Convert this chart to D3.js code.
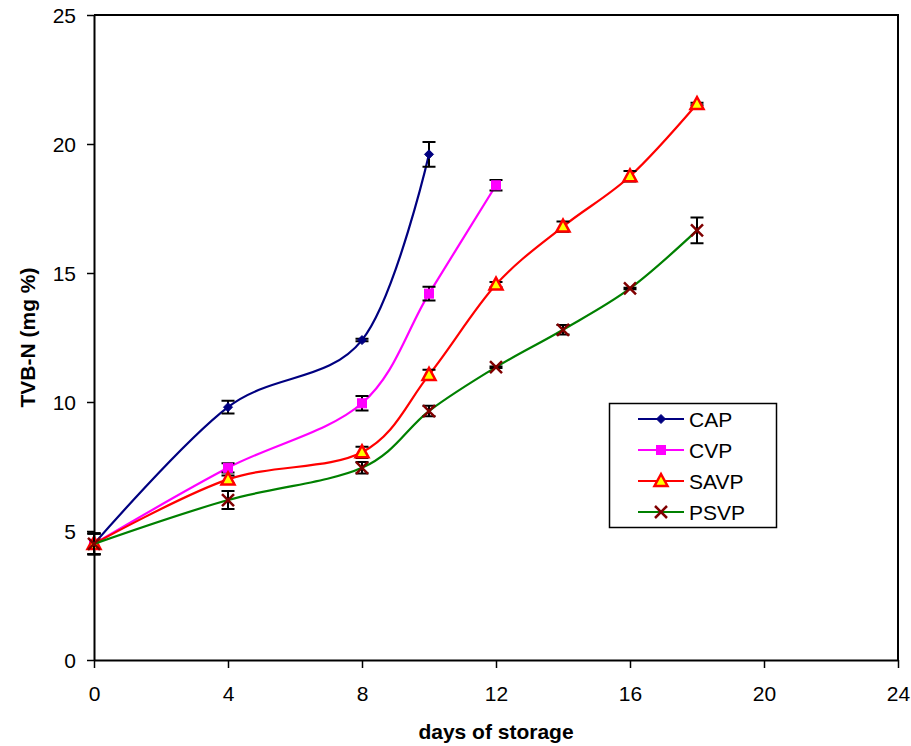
<!DOCTYPE html>
<html>
<head>
<meta charset="utf-8">
<script src="https://cdn.jsdelivr.net/npm/d3@7"></script>
<style>
  body { margin: 0; background: #fff; }
  svg text { font-family: "Liberation Sans", Arial, sans-serif; }
</style>
</head>
<body>
<div id="chart"></div>
<script>
// values
var xTicks = [0, 4, 8, 12, 16, 20, 24];
var yTicks = [0, 5, 10, 15, 20, 25];

var capDays = [0, 4, 8, 10];
var capVals = [4.5, 9.8, 12.4, 19.6];
var capErr  = [0.4, 0.25, 0.05, 0.48];

var cvpDays = [0, 4, 8, 10, 12];
var cvpVals = [4.5, 7.45, 9.95, 14.2, 18.4];
var cvpErr  = [0.4, 0.18, 0.28, 0.27, 0.2];

var savpDays = [0, 4, 8, 10, 12, 14, 16, 18];
var savpVals = [4.5, 7.0, 8.05, 11.05, 14.55, 16.8, 18.75, 21.55];
var savpErr  = [0.4, 0.15, 0.22, 0.2, 0.1, 0.2, 0.2, 0.05];

var psvpDays = [0, 4, 8, 10, 12, 14, 16, 18];
var psvpVals = [4.5, 6.2, 7.45, 9.65, 11.35, 12.8, 14.4, 16.65];
var psvpErr  = [0.4, 0.35, 0.22, 0.2, 0.03, 0.18, 0.03, 0.5];

var seriesNames = ["CAP", "CVP", "SAVP", "PSVP"];

function zipSeries(days, vals, errs) {
    return days.map(function(d, i){ return {day: d, v: vals[i], e: errs[i]}; });
}

var series = [
    {name: seriesNames[0], pts: zipSeries(capDays, capVals, capErr), color: "#000080", marker: "diamond"},
    {name: seriesNames[1], pts: zipSeries(cvpDays, cvpVals, cvpErr), color: "#ff00ff", marker: "square"},
    {name: seriesNames[2], pts: zipSeries(savpDays, savpVals, savpErr), color: "#ff0000", marker: "triangle"},
    {name: seriesNames[3], pts: zipSeries(psvpDays, psvpVals, psvpErr), color: "#008000", marker: "cross"}
];

var W = 911, H = 746;
var plotL = 94, plotR = 898, plotT = 15, plotB = 660;

var svg = d3.select("#chart").append("svg")
    .attr("width", W).attr("height", H);

var x = d3.scaleLinear().domain([0, 24]).range([plotL, plotR]);
var y = d3.scaleLinear().domain([0, 25]).range([plotB, plotT]);

// plot area border (top / right)
svg.append("path")
    .attr("d", "M" + plotL + "," + plotT + "H" + plotR + "V" + plotB)
    .attr("fill", "none").attr("stroke", "#000").attr("stroke-width", 2);

// axes
var xAxis = svg.append("g")
    .attr("transform", "translate(0," + plotB + ")")
    .call(d3.axisBottom(x).tickValues(xTicks).tickSize(8).tickSizeOuter(0));
var yAxis = svg.append("g")
    .attr("transform", "translate(" + plotL + ",0)")
    .call(d3.axisLeft(y).tickValues(yTicks).tickSize(7).tickSizeOuter(0));

[xAxis, yAxis].forEach(function(a){
    a.select(".domain").attr("stroke", "#000").attr("stroke-width", 2);
    a.selectAll(".tick line").attr("stroke", "#000").attr("stroke-width", 1.5);
    a.selectAll(".tick text")
        .attr("font-family", "Liberation Sans, Arial, sans-serif")
        .attr("font-size", 21).attr("fill", "#000");
});
xAxis.selectAll(".tick text").attr("y", 0).attr("dy", "1.95em");
yAxis.selectAll(".tick text").attr("x", -18).attr("dy", "0.36em");

// axis titles
svg.append("text")
    .attr("x", (plotL + plotR) / 2).attr("y", 739)
    .attr("text-anchor", "middle")
    .attr("font-size", 21).attr("font-weight", "bold")
    .text("days of storage");
svg.append("text")
    .attr("transform", "translate(35," + ((plotT + plotB) / 2) + ") rotate(-90)")
    .attr("text-anchor", "middle")
    .attr("font-size", 21).attr("font-weight", "bold")
    .text("TVB-N (mg %)");

// marker drawing
function drawMarker(g, type, cx, cy) {
    if (type === "diamond") {
        g.append("path")
            .attr("d", "M" + cx + "," + (cy - 4.5) + "L" + (cx + 4.5) + "," + cy +
                       "L" + cx + "," + (cy + 4.5) + "L" + (cx - 4.5) + "," + cy + "Z")
            .attr("fill", "#000080").attr("stroke", "#000080").attr("stroke-width", 1);
    } else if (type === "square") {
        g.append("rect")
            .attr("x", cx - 4.5).attr("y", cy - 4.5).attr("width", 9).attr("height", 9)
            .attr("fill", "#ff00ff").attr("stroke", "#ff00ff").attr("stroke-width", 1);
    } else if (type === "triangle") {
        g.append("path")
            .attr("d", "M" + cx + "," + (cy - 7) + "L" + (cx + 6.5) + "," + (cy + 5) +
                       "L" + (cx - 6.5) + "," + (cy + 5) + "Z")
            .attr("fill", "#ffff00").attr("stroke", "#ff0000").attr("stroke-width", 2.5)
            .attr("stroke-linejoin", "miter");
    } else {
        g.append("path")
            .attr("d", "M" + (cx - 6) + "," + (cy - 6) + "L" + (cx + 6) + "," + (cy + 6) +
                       "M" + (cx + 6) + "," + (cy - 6) + "L" + (cx - 6) + "," + (cy + 6))
            .attr("stroke", "#800000").attr("stroke-width", 2.5).attr("fill", "none");
    }
}

var line = d3.line()
    .x(function(d){ return x(d.day); })
    .y(function(d){ return y(d.v); })
    .curve(d3.curveCardinal.tension(0));

series.forEach(function(s) {
    var g = svg.append("g");

    g.append("path")
        .datum(s.pts)
        .attr("d", line)
        .attr("fill", "none")
        .attr("stroke", s.color)
        .attr("stroke-width", 2.2);

    // error bars
    s.pts.forEach(function(p) {
        var cx = x(p.day), y1 = y(p.v + p.e), y2 = y(p.v - p.e);
        g.append("path")
            .attr("d", "M" + cx + "," + y1 + "V" + y2 +
                       "M" + (cx - 6.5) + "," + y1 + "H" + (cx + 6.5) +
                       "M" + (cx - 6.5) + "," + y2 + "H" + (cx + 6.5))
            .attr("stroke", "#000").attr("stroke-width", 2).attr("fill", "none");
    });

    s.pts.forEach(function(p) {
        drawMarker(g, s.marker, x(p.day), y(p.v));
    });
});

// legend
var legend = svg.append("g");
legend.append("rect")
    .attr("x", 609.5).attr("y", 403.5).attr("width", 167).attr("height", 124)
    .attr("fill", "#fff").attr("stroke", "#000").attr("stroke-width", 1.5);

series.forEach(function(s, i) {
    var ly = 419 + i * 31;
    legend.append("line")
        .attr("x1", 638).attr("x2", 684).attr("y1", ly).attr("y2", ly)
        .attr("stroke", s.color).attr("stroke-width", 2.2);
    drawMarker(legend, s.marker, 661, ly);
    legend.append("text")
        .attr("x", 689).attr("y", ly).attr("dy", "0.36em")
        .attr("font-size", 21).attr("fill", "#000")
        .text(s.name);
});
</script>
</body>
</html>
